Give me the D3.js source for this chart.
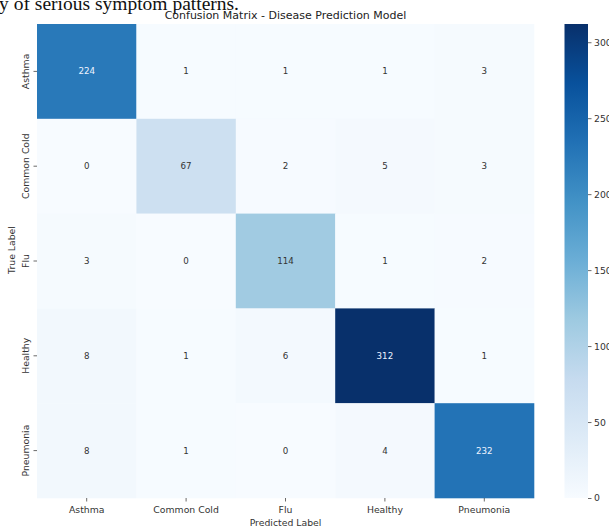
<!DOCTYPE html>
<html>
<head>
<meta charset="utf-8">
<script src="https://cdn.jsdelivr.net/npm/d3@7"></script>
<style>
  html, body { margin: 0; padding: 0; background: #ffffff; }
  svg { display: block; }
  text { font-family: "DejaVu Sans", sans-serif; }
</style>
</head>
<body>
<div id="chart"></div>
<script>
// Class labels (rows = true, columns = predicted)
const classes = ["Asthma", "Common Cold", "Flu", "Healthy", "Pneumonia"];

// Confusion counts, one array per true class
const asthmaRow    = [224, 1, 1, 1, 3];
const commonCold   = [0, 67, 2, 5, 3];
const fluRow       = [3, 0, 114, 1, 2];
const healthyRow   = [8, 1, 6, 312, 1];
const pneumoniaRow = [8, 1, 0, 4, 232];
const matrix = [asthmaRow, commonCold, fluRow, healthyRow, pneumoniaRow];

// Colour bar ticks
const colorbarTicks = [0, 50, 100, 150, 200, 250, 300];

const titleText = "Confusion Matrix - Disease Prediction Model";
const captionText = "history of serious symptom patterns.";

// Sequential "Blues" palette, interpolated linearly between nine stops
const bluesStops = ["#f7fbff", "#deebf7", "#c6dbef", "#9ecae1", "#6baed6",
                    "#4292c6", "#2171b5", "#08519c", "#08306b"];

const W = 609, H = 531;
const plot = { left: 37, right: 534, top: 24, bottom: 498 };
const bar = { left: 564.5, right: 588, top: 24, bottom: 498 };

const svg = d3.select("#chart").append("svg")
  .attr("width", W).attr("height", H);

const vmax = d3.max(matrix.flat());
const vmin = d3.min(matrix.flat());

const color = d3.scaleLinear()
  .domain(bluesStops.map((_, i) => vmin + (vmax - vmin) * i / (bluesStops.length - 1)))
  .range(bluesStops)
  .interpolate(d3.interpolateRgb)
  .clamp(true);

const x = d3.scaleBand().domain(classes).range([plot.left, plot.right]);
const y = d3.scaleBand().domain(classes).range([plot.top, plot.bottom]);

// Running text above the figure (partly cut off by the top edge)
svg.append("text")
  .attr("x", 239).attr("y", 9.5)
  .attr("text-anchor", "end")
  .style("font-family", "'Liberation Serif', 'Times New Roman', serif")
  .style("font-size", "19.5px")
  .attr("fill", "#111")
  .text(captionText);

// Heatmap cells
const cells = [];
matrix.forEach((row, i) => row.forEach((v, j) => cells.push({ r: classes[i], c: classes[j], v })));

svg.append("g").selectAll("rect").data(cells).join("rect")
  .attr("x", d => x(d.c))
  .attr("y", d => y(d.r))
  .attr("width", x.bandwidth() + 0.3)
  .attr("height", y.bandwidth() + 0.3)
  .attr("fill", d => color(d.v));

// Cell annotations: light text on dark cells
function lum(c) {
  const rgb = d3.rgb(c);
  const f = u => { u /= 255; return u <= 0.03928 ? u / 12.92 : Math.pow((u + 0.055) / 1.055, 2.4); };
  return 0.2126 * f(rgb.r) + 0.7152 * f(rgb.g) + 0.0722 * f(rgb.b);
}
svg.append("g").selectAll("text").data(cells).join("text")
  .attr("x", d => x(d.c) + x.bandwidth() / 2)
  .attr("y", d => y(d.r) + y.bandwidth() / 2)
  .attr("text-anchor", "middle")
  .attr("dominant-baseline", "central")
  .style("font-size", "8.7px")
  .attr("fill", d => lum(color(d.v)) < 0.408 ? "#eef4ff" : "#333333")
  .text(d => d.v);

// Bottom axis
const xAxis = svg.append("g")
  .attr("transform", `translate(0,${plot.bottom})`)
  .call(d3.axisBottom(x).tickSize(3.5).tickPadding(4.5));
xAxis.select(".domain").remove();
xAxis.selectAll(".tick line").attr("stroke", "#444").attr("stroke-width", 0.8);
xAxis.selectAll(".tick text").attr("fill", "#333").style("font-size", "9.3px")
  .style("font-family", "'DejaVu Sans', sans-serif");

// Left axis, labels rotated
const yAxis = svg.append("g")
  .attr("transform", `translate(${plot.left},0)`)
  .call(d3.axisLeft(y).tickSize(3.5).tickPadding(0));
yAxis.select(".domain").remove();
yAxis.selectAll(".tick line").attr("stroke", "#444").attr("stroke-width", 0.8);
yAxis.selectAll(".tick text")
  .attr("x", null).attr("dy", null)
  .attr("text-anchor", "middle")
  .attr("transform", "translate(-8.5,0) rotate(-90)")
  .attr("fill", "#333").style("font-size", "9.3px")
  .style("font-family", "'DejaVu Sans', sans-serif");

// Axis titles
svg.append("text")
  .attr("x", (plot.left + plot.right) / 2).attr("y", 525.5)
  .attr("text-anchor", "middle")
  .style("font-size", "9.3px").attr("fill", "#333")
  .text("Predicted Label");

svg.append("text")
  .attr("transform", `translate(14.5,250) rotate(-90)`)
  .attr("text-anchor", "middle")
  .style("font-size", "9.3px").attr("fill", "#333")
  .text("True Label");

// Title
svg.append("text")
  .attr("x", (plot.left + plot.right) / 2).attr("y", 19)
  .attr("text-anchor", "middle")
  .style("font-size", "11px").attr("fill", "#222")
  .text(titleText);

// Colour bar
const defs = svg.append("defs");
const grad = defs.append("linearGradient")
  .attr("id", "bluesGrad")
  .attr("x1", 0).attr("y1", 1).attr("x2", 0).attr("y2", 0);
grad.selectAll("stop").data(bluesStops).join("stop")
  .attr("offset", (d, i) => i / (bluesStops.length - 1))
  .attr("stop-color", d => d);

svg.append("rect")
  .attr("x", bar.left).attr("y", bar.top)
  .attr("width", bar.right - bar.left)
  .attr("height", bar.bottom - bar.top)
  .attr("fill", "url(#bluesGrad)");

const cbScale = d3.scaleLinear().domain([vmin, vmax]).range([bar.bottom, bar.top]);
const cbAxis = svg.append("g")
  .attr("transform", `translate(${bar.right},0)`)
  .call(d3.axisRight(cbScale).tickValues(colorbarTicks).tickSize(3.5).tickPadding(2.5));
cbAxis.select(".domain").remove();
cbAxis.selectAll(".tick line").attr("stroke", "#444").attr("stroke-width", 0.8);
cbAxis.selectAll(".tick text").attr("fill", "#333").style("font-size", "9.3px")
  .style("font-family", "'DejaVu Sans', sans-serif");
</script>
</body>
</html>
